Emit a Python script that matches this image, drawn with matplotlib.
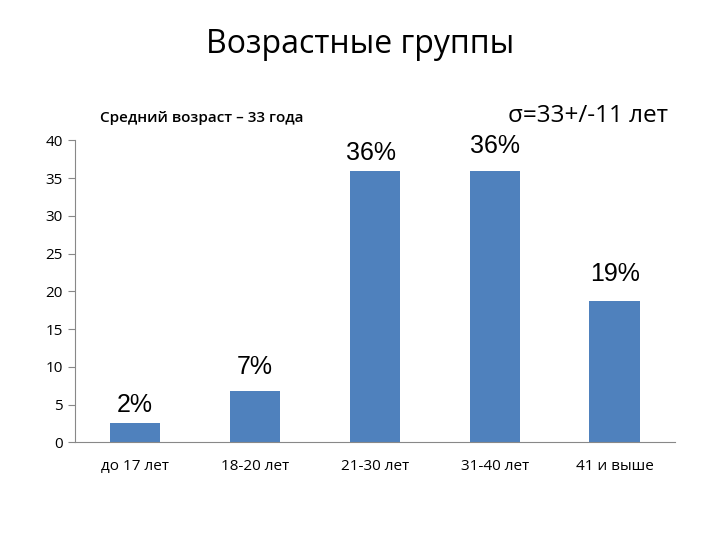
import numpy as np
import matplotlib.pyplot as plt

categories = ['до 17 лет', '18-20 лет', '21-30 лет', '31-40 лет', '41 и выше']
values = [2.5, 6.8, 36, 36, 18.7]
labels = ['2%', '7%', '36%', '36%', '19%']
label_y = [5, 10, 38.3, 39.2, 22.3]
label_dx = [0, 0, -0.03, 0, 0]

fig = plt.figure(figsize=(7.2, 5.4), dpi=100)
ax = fig.add_axes([0.104, 0.181, 0.833, 0.559])
x = np.arange(len(categories))
ax.bar(x, values, width=0.42, color='#4f81bd')

for xi, ly, dx, lab in zip(x, label_y, label_dx, labels):
    ax.text(xi + dx, ly, lab, ha='center', va='center', fontsize=18,
            family='Liberation Sans')

ax.set_xlim(-0.5, 4.5)
ax.set_ylim(0, 40)
ax.set_yticks(range(0, 41, 5))
ax.set_xticks(x)
ax.set_xticklabels(categories, family='Open Sans', fontsize=11)
for t in ax.get_yticklabels():
    t.set_family('Open Sans')
    t.set_fontsize(11)
ax.spines['top'].set_visible(False)
ax.spines['right'].set_visible(False)
ax.spines['left'].set_color('#888888')
ax.spines['bottom'].set_color('#888888')
ax.tick_params(axis='y', color='#888888', length=5)
ax.tick_params(axis='x', length=0, pad=12)

fig.text(0.5, 0.917, 'Возрастные группы', ha='center', va='center',
         fontsize=23, family='Open Sans')
fig.text(0.139, 0.781, 'Средний возраст – 33 года', ha='left', va='center',
         fontsize=11, family='Open Sans', fontweight='semibold')
fig.text(0.706, 0.785, 'σ=33+/-11 лет', ha='left', va='center',
         fontsize=17.5, family='Open Sans')

fig.savefig('out.png')
